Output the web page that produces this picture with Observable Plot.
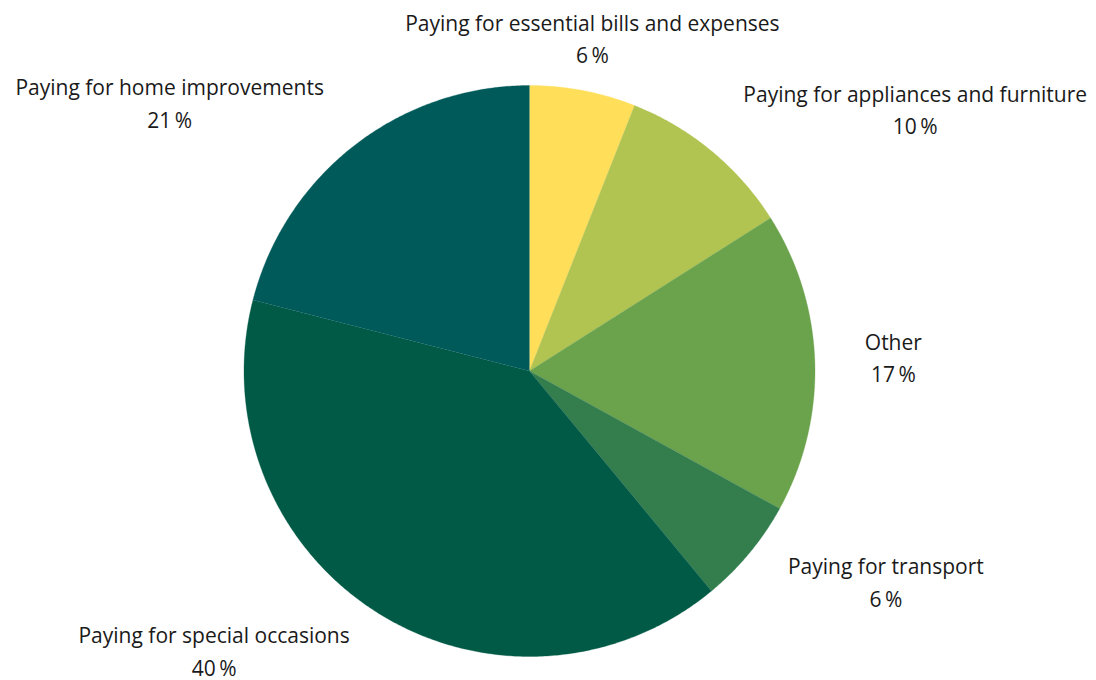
<!DOCTYPE html>
<html>
<head>
<meta charset="utf-8">
<script src="https://cdn.jsdelivr.net/npm/d3@7"></script>
<script src="https://cdn.jsdelivr.net/npm/@observablehq/plot@0.6"></script>
<style>
  html, body { margin: 0; padding: 0; background: #fff; }
  #chart { width: 1096px; height: 680px; }
</style>
</head>
<body>
<div id="chart"></div>
<script>
const categories = [
  "Paying for essential bills and expenses",
  "Paying for appliances and furniture",
  "Other",
  "Paying for transport",
  "Paying for special occasions",
  "Paying for home improvements"
];
const values = [6, 10, 17, 6, 40, 21];
const colors = ["#FFDE59", "#B1C350", "#6BA24C", "#347E4E", "#005A45", "#005A5A"];

const FONT_SIZE = 21;
const FONT_FAMILY = "'Open Sans', sans-serif";
const PX_PER_UNIT = 285.5;
const LABEL_R = 1.175;

const pie = d3.pie().sort(null).value(d => d.value);
const slices = pie(categories.map((c, i) => ({name: c, value: values[i], color: colors[i]})));

// polygon points for each slice (angle 0 = top, clockwise)
const pts = [];
for (const s of slices) {
  const n = Math.max(2, Math.ceil((s.endAngle - s.startAngle) / (Math.PI / 360)));
  pts.push({name: s.data.name, color: s.data.color, x: 0, y: 0});
  for (let k = 0; k <= n; k++) {
    const a = s.startAngle + (s.endAngle - s.startAngle) * k / n;
    pts.push({name: s.data.name, color: s.data.color, x: Math.sin(a), y: Math.cos(a)});
  }
}

// label measurement
const ctx = document.createElement("canvas").getContext("2d");
ctx.font = `${FONT_SIZE}px ${FONT_FAMILY}`;
const labels = slices.map(s => {
  const a = (s.startAngle + s.endAngle) / 2;
  const sx = Math.sin(a), cy = Math.cos(a);
  const lines = [s.data.name, `${s.data.value}\u2009%`];
  const w = Math.max(...lines.map(l => ctx.measureText(l).width));
  let x = sx * LABEL_R;
  if (sx > 0.3) x += (w / 2) / PX_PER_UNIT;
  else if (sx < -0.3) x -= (w / 2) / PX_PER_UNIT;
  return {text: lines.join("\n"), x, y: cy * LABEL_R};
});

const chart = Plot.plot({
  width: 1096,
  height: 680,
  margin: 0,
  style: {background: "#fff"},
  x: {domain: [-1, 1], range: [529 - PX_PER_UNIT, 529 + PX_PER_UNIT], axis: null},
  y: {domain: [-1, 1], range: [370.5 + PX_PER_UNIT, 370.5 - PX_PER_UNIT], axis: null},
  marks: [
    Plot.line(pts, {x: "x", y: "y", z: "name", fill: "color", stroke: "color", strokeWidth: 0.3, curve: "linear"}),
    Plot.text(labels, {
      x: "x", y: "y", text: "text",
      fontSize: FONT_SIZE, fontFamily: FONT_FAMILY, fill: "#1a1a1a",
      lineHeight: 1.55, textAnchor: "middle", dy: -5
    })
  ]
});
document.getElementById("chart").appendChild(chart);
</script>
</body>
</html>
